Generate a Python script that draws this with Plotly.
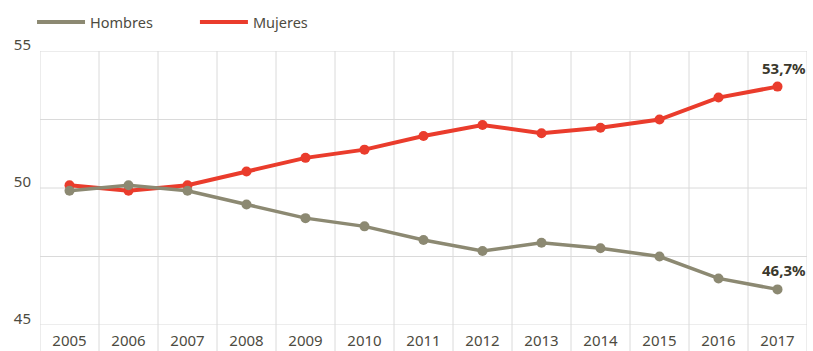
import plotly.graph_objects as go

years = ["2005", "2006", "2007", "2008", "2009", "2010", "2011", "2012", "2013", "2014", "2015", "2016", "2017"]
mujeres = [50.1, 49.9, 50.1, 50.6, 51.1, 51.4, 51.9, 52.3, 52.0, 52.2, 52.5, 53.3, 53.7]
hombres = [49.9, 50.1, 49.9, 49.4, 48.9, 48.6, 48.1, 47.7, 48.0, 47.8, 47.5, 46.7, 46.3]
y_tickvals = [45, 47.5, 50, 52.5, 55]
y_ticktext = ["45", "", "50", "", "55"]
end_labels = ["53,7%", "46,3%"]

RED = "#ea3c2c"
GREY = "#8c8972"
TXT = "#4d4b3f"
GRID = "#dadada"

fig = go.Figure()
# data traces (Mujeres first so Hombres draws on top, as in the reference)
fig.add_trace(go.Scatter(x=years, y=mujeres, name="Mujeres", mode="lines+markers", showlegend=False,
                         line=dict(color=RED, width=4), marker=dict(size=10, color=RED)))
fig.add_trace(go.Scatter(x=years, y=hombres, name="Hombres", mode="lines+markers", showlegend=False,
                         line=dict(color=GREY, width=3.5), marker=dict(size=10, color=GREY)))
# legend-only entries (line samples without markers), each in its own legend box
fig.add_trace(go.Scatter(x=[None], y=[None], name="Hombres", mode="lines", legend="legend",
                         line=dict(color=GREY, width=4)))
fig.add_trace(go.Scatter(x=[None], y=[None], name="Mujeres", mode="lines", legend="legend2",
                         line=dict(color=RED, width=4)))

n = len(years)
fig.add_annotation(x=n - 1, y=mujeres[-1], text="<b>" + end_labels[0] + "</b>", showarrow=False,
                   yshift=19, xshift=6, font=dict(size=15, color="#3a382c"))
fig.add_annotation(x=n - 1, y=hombres[-1], text="<b>" + end_labels[1] + "</b>", showarrow=False,
                   yshift=19, xshift=6, font=dict(size=15, color="#3a382c"))

shapes = []
for i in range(n + 1):
    shapes.append(dict(type="line", xref="x", yref="paper", x0=i - 0.5, x1=i - 0.5,
                       y0=-0.095, y1=1, line=dict(color=GRID, width=1), layer="below"))
for v in y_tickvals:
    shapes.append(dict(type="line", xref="paper", yref="y", x0=0, x1=1, y0=v, y1=v,
                       line=dict(color=GRID, width=1), layer="below"))

leg_common = dict(orientation="h", xanchor="left", y=1.106, yanchor="middle",
                  font=dict(size=14.5, color=TXT), itemwidth=48, bgcolor="rgba(0,0,0,0)")

fig.update_layout(
    width=813, height=351,
    margin=dict(l=40, r=6, t=51, b=26, autoexpand=False),
    paper_bgcolor="white", plot_bgcolor="white",
    font=dict(family="Noto Sans", size=14, color=TXT),
    showlegend=True,
    shapes=shapes,
    legend=dict(x=-0.0104, **leg_common),
    legend2=dict(x=0.202, **leg_common),
    xaxis=dict(type="category", showgrid=False, ticks="", showline=False, zeroline=False,
               automargin=False, tickfont=dict(size=15, color=TXT), range=[-0.5, n - 0.5],
               ticklabelstandoff=5),
    yaxis=dict(range=[45, 55], tickvals=y_tickvals, ticktext=y_ticktext, showgrid=False,
               automargin=False, zeroline=False, showline=False, ticks="", ticklabelshift=-6,
               tickfont=dict(size=15, color=TXT), ticklabelstandoff=8),
)
fig.write_html("out.html")
